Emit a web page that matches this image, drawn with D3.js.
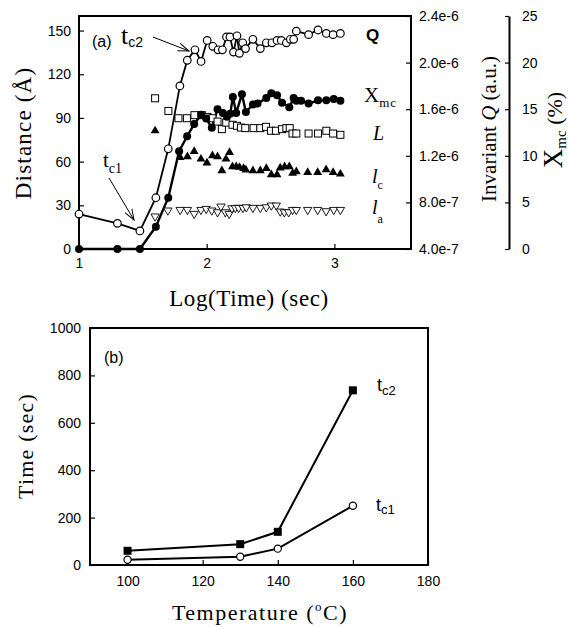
<!DOCTYPE html>
<html>
<head>
<meta charset="utf-8">
<script src="https://cdn.jsdelivr.net/npm/d3@7"></script>
<style>
  body { margin: 0; background: #fff; }
  .tick text { font-family: "Liberation Sans", Arial, sans-serif; font-size: 14px; fill: #000; }
  .tick line { stroke: #000; stroke-width: 1.2; }
  .serif { font-family: "Liberation Serif", "Times New Roman", serif; font-weight: normal; fill: #000; }
  .sans { font-family: "Liberation Sans", Arial, sans-serif; fill: #000; }
</style>
</head>
<body>
<div id="chart"></div>
<script>
// ---- panel (a) data: x is log10(time / sec) ----
var qLogT = [1.0, 1.301, 1.477, 1.602, 1.699, 1.79, 1.848, 1.908, 1.956, 2.004, 2.048, 2.089, 2.123, 2.155, 2.182, 2.21, 2.237, 2.256, 2.282, 2.304, 2.362, 2.42, 2.467, 2.511, 2.551, 2.584, 2.624, 2.655, 2.681, 2.702, 2.798, 2.872, 2.937, 2.99, 3.047];
var qVal = [7.0e-7, 6.2e-7, 5.55e-7, 8.4e-7, 1.26e-6, 1.80e-6, 2.02e-6, 2.11e-6, 2.01e-6, 2.19e-6, 2.14e-6, 2.11e-6, 2.11e-6, 2.22e-6, 2.22e-6, 2.09e-6, 2.23e-6, 2.08e-6, 2.17e-6, 2.12e-6, 2.20e-6, 2.12e-6, 2.17e-6, 2.17e-6, 2.19e-6, 2.19e-6, 2.17e-6, 2.20e-6, 2.20e-6, 2.27e-6, 2.24e-6, 2.28e-6, 2.25e-6, 2.24e-6, 2.25e-6];

var xmcLogT = [1.0, 1.301, 1.477, 1.602, 1.699, 1.784, 1.847, 1.902, 1.957, 1.996, 2.04, 2.085, 2.127, 2.158, 2.184, 2.205, 2.231, 2.276, 2.307, 2.362, 2.398, 2.467, 2.506, 2.551, 2.59, 2.647, 2.681, 2.702, 2.739, 2.798, 2.872, 2.937, 2.995, 3.047];
var xmcVal = [0, 0, 0, 2.4, 5.5, 10.5, 12.1, 13.4, 14.4, 14.0, 13.0, 15.0, 14.6, 14.2, 14.5, 16.3, 14.6, 16.6, 14.7, 15.5, 15.6, 16.2, 16.7, 16.5, 15.7, 15.2, 16.2, 15.9, 15.9, 15.6, 15.95, 15.95, 16.1, 15.9];

var LLogT = [1.596, 1.70, 1.779, 1.845, 1.904, 1.962, 2.006, 2.045, 2.085, 2.119, 2.153, 2.202, 2.237, 2.268, 2.302, 2.367, 2.42, 2.464, 2.503, 2.542, 2.59, 2.624, 2.65, 2.672, 2.702, 2.798, 2.872, 2.937, 2.99, 3.047];
var LVal = [103.5, 94.8, 89.8, 89.8, 91.9, 91.9, 90.7, 89.8, 87.5, 82.3, 86.8, 85.3, 84.6, 83.4, 83, 83, 83, 83.9, 81.2, 81.2, 82.3, 83, 83, 79.3, 79.3, 79.3, 79.3, 81.2, 79.3, 78.4];

var lcLogT = [1.596, 1.792, 1.849, 1.902, 1.955, 2.002, 2.045, 2.085, 2.119, 2.151, 2.179, 2.202, 2.231, 2.257, 2.289, 2.307, 2.362, 2.42, 2.467, 2.506, 2.551, 2.576, 2.61, 2.647, 2.673, 2.702, 2.791, 2.869, 2.935, 2.99, 3.047];
var lcVal = [81.2, 62.9, 63.4, 67, 61.8, 59.1, 64.1, 63.4, 53.8, 61.8, 66.3, 56.5, 56.5, 56.1, 55.4, 54.3, 53.8, 53.8, 55.4, 51.1, 51.1, 55.7, 56.5, 56.5, 52, 53.1, 52.6, 52.6, 54.5, 52.6, 51.5];

var laLogT = [1.596, 1.696, 1.792, 1.849, 1.902, 1.955, 1.996, 2.04, 2.085, 2.112, 2.146, 2.176, 2.198, 2.224, 2.25, 2.284, 2.31, 2.362, 2.42, 2.467, 2.506, 2.545, 2.576, 2.608, 2.642, 2.673, 2.702, 2.791, 2.869, 2.935, 2.995, 3.047];
var laVal = [22.4, 26.5, 26.9, 26.9, 24.2, 26.9, 27.6, 26.5, 25.3, 29.2, 25.3, 24.2, 28.0, 28.3, 28.3, 28.3, 28.7, 28.3, 28.3, 28.7, 29.9, 29.9, 25.8, 25.3, 25.3, 26.9, 26.9, 26.9, 26.9, 26.0, 26.9, 26.9];

var logTicks = [1, 2, 3];
var distTicks = [0, 30, 60, 90, 120, 150];
var qTicks = [4e-7, 8e-7, 1.2e-6, 1.6e-6, 2.0e-6, 2.4e-6];
var xmcTicks = [0, 5, 10, 15, 20, 25];

// ---- panel (b) data ----
var temps = [100, 130, 140, 160];
var tc1Time = [22, 35, 69, 250];
var tc2Time = [60, 88, 140, 737];
var tempTicks = [100, 120, 140, 160, 180];
var timeTicks = [0, 200, 400, 600, 800, 1000];

function zip(xs, ys) { return xs.map(function(x, i) { return [x, ys[i]]; }); }

var svg = d3.select("#chart").append("svg")
  .attr("width", 568).attr("height", 628);

// arrow head (open V)
svg.append("defs").append("marker")
  .attr("id", "arr").attr("viewBox", "0 0 12 10")
  .attr("refX", 11).attr("refY", 5)
  .attr("markerWidth", 12).attr("markerHeight", 10)
  .attr("markerUnits", "userSpaceOnUse")
  .attr("orient", "auto")
  .append("path").attr("d", "M0,1 L11,5 L0,9")
  .attr("fill", "none").attr("stroke", "#000").attr("stroke-width", 1);

// ================= panel (a) =================
var ax = d3.scaleLinear().domain([1, 3.6]).range([79, 411]);
var ay = d3.scaleLinear().domain([0, 160]).range([249, 16]);
var aq = d3.scaleLinear().domain([4e-7, 2.4e-6]).range([249, 16]);
var am = d3.scaleLinear().domain([0, 25]).range([249, 16]);

var ga = svg.append("g");

ga.append("g").attr("transform", "translate(79,0)")
  .call(d3.axisLeft(ay).tickValues(distTicks).tickSize(-5).tickPadding(8))
  .call(function(g) { g.select(".domain").remove(); });
ga.append("g").attr("transform", "translate(0,249)")
  .call(d3.axisBottom(ax).tickValues(logTicks).tickFormat(d3.format("d")).tickSize(-5).tickPadding(9))
  .call(function(g) { g.select(".domain").remove(); });
ga.append("g").attr("transform", "translate(411,0)")
  .call(d3.axisRight(aq).tickValues(qTicks).tickFormat(function(d) { return d.toExponential(1); }).tickSize(-5).tickPadding(8))
  .call(function(g) { g.select(".domain").remove(); });
ga.append("g").attr("transform", "translate(509,0)")
  .call(d3.axisRight(am).tickValues(xmcTicks).tickSize(-4).tickPadding(13).tickSizeOuter(0))
  .call(function(g) { g.select(".domain").attr("stroke-width", 2); });

ga.append("rect").attr("x", 79).attr("y", 16).attr("width", 332).attr("height", 233)
  .attr("fill", "none").attr("stroke", "#000").attr("stroke-width", 2);

var qLine = d3.line().x(function(d) { return ax(d[0]); }).y(function(d) { return aq(d[1]); });
var mLine = d3.line().x(function(d) { return ax(d[0]); }).y(function(d) { return am(d[1]); });

ga.append("path").datum(zip(qLogT, qVal)).attr("d", qLine)
  .attr("fill", "none").attr("stroke", "#000").attr("stroke-width", 1.8);
ga.append("path").datum(zip(xmcLogT, xmcVal)).attr("d", mLine)
  .attr("fill", "none").attr("stroke", "#000").attr("stroke-width", 2.4);

// L : open squares
ga.selectAll(".sqL").data(zip(LLogT, LVal)).enter().append("rect")
  .attr("x", function(d) { return ax(d[0]) - 3.5; })
  .attr("y", function(d) { return ay(d[1]) - 3.5; })
  .attr("width", 7).attr("height", 7)
  .attr("fill", "#fff").attr("stroke", "#000").attr("stroke-width", 1);

// lc : filled triangles
ga.selectAll(".trc").data(zip(lcLogT, lcVal)).enter().append("path")
  .attr("d", d3.symbol().type(d3.symbolTriangle).size(34))
  .attr("transform", function(d) { return "translate(" + ax(d[0]) + "," + ay(d[1]) + ")"; })
  .attr("fill", "#000");

// la : open down triangles
ga.selectAll(".tra").data(zip(laLogT, laVal)).enter().append("path")
  .attr("d", d3.symbol().type(d3.symbolTriangle).size(30))
  .attr("transform", function(d) { return "translate(" + ax(d[0]) + "," + ay(d[1]) + ") rotate(180)"; })
  .attr("fill", "#fff").attr("stroke", "#000").attr("stroke-width", 0.9);

// Xmc : filled circles
ga.selectAll(".cm").data(zip(xmcLogT, xmcVal)).enter().append("circle")
  .attr("cx", function(d) { return ax(d[0]); })
  .attr("cy", function(d) { return am(d[1]); })
  .attr("r", 4).attr("fill", "#000");

// Q : open circles
ga.selectAll(".cq").data(zip(qLogT, qVal)).enter().append("circle")
  .attr("cx", function(d) { return ax(d[0]); })
  .attr("cy", function(d) { return aq(d[1]); })
  .attr("r", 3.8).attr("fill", "#fff").attr("stroke", "#000").attr("stroke-width", 1.2);

// labels inside panel (a)
ga.append("text").attr("class", "sans").attr("x", 92).attr("y", 47).attr("font-size", 16).text("(a)");
var t2 = ga.append("text").attr("x", 121).attr("y", 44);
t2.append("tspan").attr("class", "serif").attr("font-size", 26).text("t");
t2.append("tspan").attr("class", "sans").attr("font-size", 14).attr("dy", 3).text("c2");
ga.append("line").attr("x1", 153).attr("y1", 37).attr("x2", 189).attr("y2", 51)
  .attr("stroke", "#000").attr("stroke-width", 1).attr("marker-end", "url(#arr)");
var t1 = ga.append("text").attr("x", 103).attr("y", 167).attr("class", "serif");
t1.append("tspan").attr("font-size", 21).text("t");
t1.append("tspan").attr("font-size", 14).attr("dy", 6).text("c1");
ga.append("line").attr("x1", 109).attr("y1", 178).attr("x2", 134).attr("y2", 220)
  .attr("stroke", "#000").attr("stroke-width", 1).attr("marker-end", "url(#arr)");

ga.append("text").attr("class", "sans").attr("x", 366).attr("y", 41)
  .attr("font-size", 17).attr("font-weight", "bold").text("Q");
var xm = ga.append("text").attr("class", "serif").attr("x", 364).attr("y", 102);
xm.append("tspan").attr("font-size", 21).text("X");
xm.append("tspan").attr("font-size", 13).attr("dy", 5).attr("letter-spacing", 1).text("mc");
ga.append("text").attr("class", "serif").attr("x", 373).attr("y", 140)
  .attr("font-size", 20).attr("font-style", "italic").text("L");
var lc = ga.append("text").attr("class", "serif").attr("x", 372).attr("y", 183);
lc.append("tspan").attr("font-size", 20).attr("font-style", "italic").text("l");
lc.append("tspan").attr("font-size", 12).attr("dy", 6).text("c");
var la = ga.append("text").attr("class", "serif").attr("x", 372).attr("y", 214);
la.append("tspan").attr("font-size", 20).attr("font-style", "italic").text("l");
la.append("tspan").attr("font-size", 12).attr("dy", 9).text("a");

// axis titles (a)
ga.append("text").attr("class", "serif").attr("font-size", 23).attr("letter-spacing", 1.2)
  .attr("text-anchor", "middle").attr("transform", "translate(31,133) rotate(-90)")
  .text("Distance (\u00C5)");
ga.append("text").attr("class", "serif").attr("font-size", 23).attr("letter-spacing", 0.6)
  .attr("text-anchor", "middle").attr("x", 249).attr("y", 306)
  .text("Log(Time) (sec)");
var iq = ga.append("text").attr("class", "serif").attr("font-size", 21)
  .attr("text-anchor", "middle").attr("transform", "translate(496,129) rotate(-90)");
iq.append("tspan").text("Invariant ");
iq.append("tspan").attr("font-style", "italic").text("Q");
iq.append("tspan").text(" (a.u.)");
var xt = ga.append("text").attr("class", "serif")
  .attr("text-anchor", "middle").attr("transform", "translate(562,130) rotate(-90)");
xt.append("tspan").attr("font-size", 27).text("X");
xt.append("tspan").attr("font-size", 15).attr("dy", 4).text("mc");
xt.append("tspan").attr("font-size", 22).attr("dy", -4).text(" (%)");

// ================= panel (b) =================
var bx = d3.scaleLinear().domain([90, 180]).range([90, 428]);
var by = d3.scaleLinear().domain([0, 1000]).range([565, 328]);

var gb = svg.append("g");
gb.append("g").attr("transform", "translate(90,0)")
  .call(d3.axisLeft(by).tickValues(timeTicks).tickFormat(d3.format("d")).tickSize(-5).tickPadding(9))
  .call(function(g) { g.select(".domain").remove(); });
gb.append("g").attr("transform", "translate(0,565)")
  .call(d3.axisBottom(bx).tickValues(tempTicks).tickFormat(d3.format("d")).tickSize(-5).tickPadding(11))
  .call(function(g) { g.select(".domain").remove(); });
gb.append("rect").attr("x", 90).attr("y", 328).attr("width", 338).attr("height", 237)
  .attr("fill", "none").attr("stroke", "#000").attr("stroke-width", 2);

var bLine = d3.line().x(function(d) { return bx(d[0]); }).y(function(d) { return by(d[1]); });
gb.append("path").datum(zip(temps, tc2Time)).attr("d", bLine)
  .attr("fill", "none").attr("stroke", "#000").attr("stroke-width", 2);
gb.append("path").datum(zip(temps, tc1Time)).attr("d", bLine)
  .attr("fill", "none").attr("stroke", "#000").attr("stroke-width", 2);
gb.selectAll(".sq2").data(zip(temps, tc2Time)).enter().append("rect")
  .attr("x", function(d) { return bx(d[0]) - 4; })
  .attr("y", function(d) { return by(d[1]) - 4; })
  .attr("width", 8).attr("height", 8).attr("fill", "#000");
gb.selectAll(".c1").data(zip(temps, tc1Time)).enter().append("circle")
  .attr("cx", function(d) { return bx(d[0]); })
  .attr("cy", function(d) { return by(d[1]); })
  .attr("r", 3.6).attr("fill", "#fff").attr("stroke", "#000").attr("stroke-width", 1.2);

gb.append("text").attr("class", "sans").attr("x", 104).attr("y", 363).attr("font-size", 16).text("(b)");
var b2 = gb.append("text").attr("class", "sans").attr("x", 377).attr("y", 391);
b2.append("tspan").attr("font-size", 18).text("t");
b2.append("tspan").attr("font-size", 13).attr("dy", 4).text("c2");
var b1 = gb.append("text").attr("class", "sans").attr("x", 376).attr("y", 511);
b1.append("tspan").attr("font-size", 18).text("t");
b1.append("tspan").attr("font-size", 13).attr("dy", 3).text("c1");

gb.append("text").attr("class", "serif").attr("font-size", 22).attr("letter-spacing", 1.2)
  .attr("text-anchor", "middle").attr("transform", "translate(33,446) rotate(-90)")
  .text("Time (sec)");
var tt = gb.append("text").attr("class", "serif").attr("font-size", 22).attr("letter-spacing", 1.5)
  .attr("text-anchor", "middle").attr("x", 260).attr("y", 620);
tt.append("tspan").text("Temperature (");
tt.append("tspan").attr("font-size", 13).attr("dy", -9).text("o");
tt.append("tspan").attr("dy", 9).text("C)");
</script>
</body>
</html>
